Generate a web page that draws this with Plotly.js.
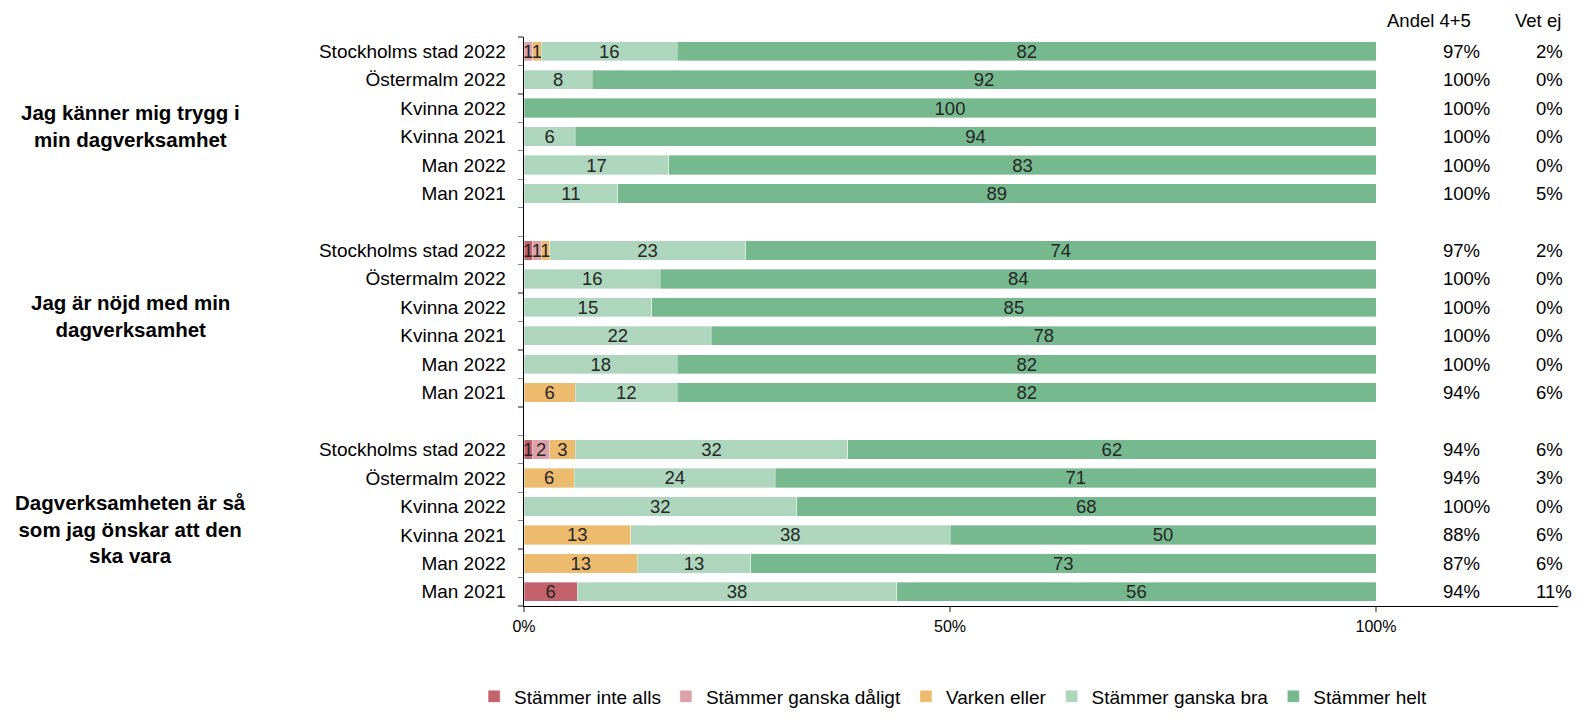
<!DOCTYPE html>
<html>
<head>
<meta charset="utf-8">
<script src="https://cdn.plot.ly/plotly-3.0.1.min.js"></script>
<style>
  html, body { margin: 0; padding: 0; background: #fff; }
  #chart { width: 1579px; height: 727px; }
</style>
</head>
<body>
<div id="chart"></div>
<script>
// ---- data ----
const rowLabels = ['Stockholms stad 2022', 'Östermalm 2022', 'Kvinna 2022', 'Kvinna 2021', 'Man 2022', 'Man 2021'];
const groupLabels = [
  'Jag känner mig trygg i<br>min dagverksamhet',
  'Jag är nöjd med min<br>dagverksamhet',
  'Dagverksamheten är så<br>som jag önskar att den<br>ska vara'
];
const seriesNames = ['Stämmer inte alls', 'Stämmer ganska dåligt', 'Varken eller', 'Stämmer ganska bra', 'Stämmer helt'];
const seriesColors = ['#C3626D', '#DDA2A9', '#EDBB6D', '#AED6BD', '#76B98F'];

// 18 rows: 3 groups x 6 rows
const inteAlls     = [0, 0, 0, 0, 0, 0,    1, 0, 0, 0, 0, 0,    1, 0, 0, 0, 0, 6.25];
const ganskaDaligt = [1, 0, 0, 0, 0, 0,    1, 0, 0, 0, 0, 0,    2, 0, 0, 0, 0, 0];
const varkenEller  = [1, 0, 0, 0, 0, 0,    1, 0, 0, 0, 0, 6,    3, 5.9, 0, 12.5, 13.3, 0];
const ganskaBra    = [16, 8, 0, 6, 17, 11, 23, 16, 15, 22, 18, 12, 32, 23.6, 32, 37.5, 13.3, 37.5];
const helt         = [82, 92, 100, 94, 83, 89, 74, 84, 85, 78, 82, 82, 62, 70.5, 68, 50, 73.4, 56.25];
const andel45 = ['97%', '100%', '100%', '100%', '100%', '100%',
                 '97%', '100%', '100%', '100%', '100%', '94%',
                 '94%', '94%', '100%', '88%', '87%', '94%'];
const vetEj   = ['2%', '0%', '0%', '0%', '0%', '5%',
                 '2%', '0%', '0%', '0%', '0%', '6%',
                 '6%', '3%', '0%', '6%', '6%', '11%'];
const xTickVals = [0, 50, 100];
const xTickText = ['0%', '50%', '100%'];

// ---- build ----
const FONT = 'Liberation Sans, Arial, sans-serif';
const nGroups = groupLabels.length;
const nRows = rowLabels.length;
const slotsPerGroup = nRows + 1;
const totalSlots = nGroups * slotsPerGroup - 1;

const yPos = [];
const yTickText = [];
for (let g = 0; g < nGroups; g++) {
  for (let r = 0; r < nRows; r++) {
    yPos.push(g * slotsPerGroup + r);
    yTickText.push(rowLabels[r]);
  }
}
const boundaries = [];
for (let i = 0; i <= totalSlots; i++) boundaries.push(i - 0.5);

const seriesValues = [inteAlls, ganskaDaligt, varkenEller, ganskaBra, helt];
const traces = seriesValues.map((vals, i) => ({
  type: 'bar',
  orientation: 'h',
  name: seriesNames[i],
  x: vals,
  y: yPos,
  width: 0.68,
  marker: { color: seriesColors[i], line: { color: 'rgba(255,255,255,0.6)', width: 0.6 } },
  text: vals.map(v => v > 0 ? String(Math.round(v)) : ''),
  textposition: 'inside',
  insidetextanchor: 'middle',
  textangle: 0,
  constraintext: 'none',
  cliponaxis: false,
  textfont: { family: FONT, size: 18.5, color: '#262626' },
  hoverinfo: 'skip'
}));

// invisible trace to activate overlay axis for boundary ticks
traces.push({
  type: 'scatter', x: [0], y: [0], yaxis: 'y2', mode: 'markers',
  marker: { opacity: 0 }, showlegend: false, hoverinfo: 'skip'
});

const annotations = [];
yPos.forEach((y, i) => {
  annotations.push({ x: 107.6, y: y, xref: 'x', yref: 'y', text: andel45[i], showarrow: false,
    xanchor: 'left', yanchor: 'middle', font: { family: FONT, size: 18.5, color: '#000' } });
  annotations.push({ x: 118.6, y: y, xref: 'x', yref: 'y', text: vetEj[i], showarrow: false,
    xanchor: 'left', yanchor: 'middle', font: { family: FONT, size: 18.5, color: '#000' } });
});
annotations.push({ x: 101.0, y: 1.029, xref: 'x', yref: 'paper', text: 'Andel 4+5', showarrow: false,
  xanchor: 'left', yanchor: 'middle', font: { family: FONT, size: 18.5, color: '#000' } });
annotations.push({ x: 116.1, y: 1.029, xref: 'x', yref: 'paper', text: 'Vet ej', showarrow: false,
  xanchor: 'left', yanchor: 'middle', font: { family: FONT, size: 18.5, color: '#000' } });
const groupY = [2.63, 9.3, 16.8];
groupLabels.forEach((t, g) => {
  annotations.push({ x: -0.381, y: groupY[g], xref: 'paper', yref: 'y', text: '<b>' + t + '</b>',
    showarrow: false, xanchor: 'center', yanchor: 'middle', align: 'center',
    font: { family: FONT, size: 20.5, color: '#000' } });
});

const yRange = [totalSlots - 0.5, -0.5];
const layout = {
  width: 1579, height: 727,
  margin: { l: 524, r: 21, t: 37, b: 104, pad: 0 },
  paper_bgcolor: '#fff', plot_bgcolor: '#fff',
  barmode: 'stack',
  font: { family: FONT, size: 18.5, color: '#000' },
  uniformtext: { mode: 'show', minsize: 18.5 },
  showlegend: true,
  legend: {
    orientation: 'h', x: 0.415, xanchor: 'center', y: -0.159, yanchor: 'middle',
    font: { family: FONT, size: 19, color: '#000' },
    itemwidth: 30, traceorder: 'normal', itemclick: false
  },
  xaxis: {
    range: [0, 121.36], tickvals: xTickVals, ticktext: xTickText,
    showgrid: false, zeroline: false, showline: true, linecolor: '#000', linewidth: 1.3,
    ticks: 'outside', ticklen: 5, tickcolor: '#8c8c8c', tickwidth: 1.3,
    tickfont: { family: FONT, size: 16, color: '#000' }, fixedrange: true
  },
  yaxis: {
    range: yRange, tickvals: yPos, ticktext: yTickText, ticks: '',
    showgrid: false, zeroline: false, showline: true, linecolor: '#000', linewidth: 1.3,
    ticklabelstandoff: 13,
    tickfont: { family: FONT, size: 19, color: '#000' }, fixedrange: true
  },
  yaxis2: {
    overlaying: 'y', anchor: 'x', side: 'left', range: yRange,
    tickvals: boundaries, showticklabels: false, ticks: 'outside', ticklen: 5,
    tickcolor: '#8c8c8c', tickwidth: 1.3,
    showgrid: false, zeroline: false, showline: false, fixedrange: true
  },
  annotations: annotations
};

Plotly.newPlot('chart', traces, layout, { displayModeBar: false, staticPlot: true });
</script>
</body>
</html>
